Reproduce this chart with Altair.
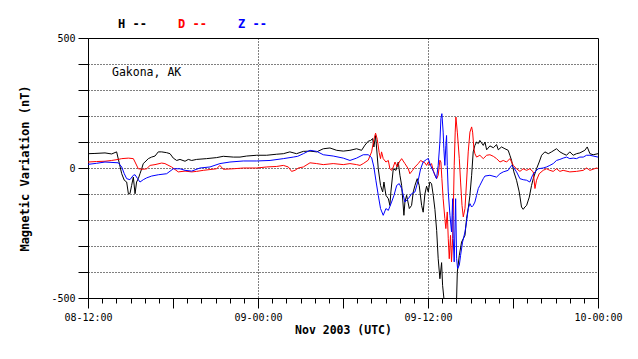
import altair as alt
import pandas as pd

# ---- data (hours since 2003-11-08 12:00 UTC, magnetic variation nT) ----
H_t = [0.0, 0.49, 1.20, 1.67, 2.02, 2.19, 2.38, 2.56, 2.73, 2.85, 2.96, 3.08, 3.20, 3.32, 3.43, 3.55, 3.67, 3.79, 3.90, 4.02,
       4.26, 4.49, 4.73, 4.96, 5.20, 5.55, 5.79, 6.02, 6.26, 6.49, 6.85, 7.08, 7.32, 7.67, 8.37, 9.08, 9.55, 10.26, 10.73, 11.20,
       11.91, 12.61, 13.32, 13.79, 14.25, 14.72, 15.20, 15.67, 16.14, 16.61, 17.08, 17.55, 18.02, 18.49, 18.96, 19.31, 19.55,
       19.78, 19.95, 20.09, 20.18, 20.30, 20.49, 20.65, 20.80, 20.89, 21.03, 21.20, 21.31, 21.38, 21.55, 21.74, 21.90, 22.02,
       22.14, 22.30, 22.37, 22.49, 22.68, 22.84, 22.96, 23.08, 23.24, 23.38, 23.55, 23.66, 23.78, 23.90, 24.02, 24.13, 24.25,
       24.37, 24.49, 24.61, 24.72, 24.84, 24.96, 25.03, 25.12, 25.25, 25.90, 26.02, 26.07, 26.21, 26.37, 26.49, 26.61, 26.72,
       26.84, 26.96, 27.08, 27.19, 27.31, 27.43, 27.55, 27.66, 27.90, 28.02, 28.14, 28.37, 28.61, 28.84, 28.96, 29.19, 29.43,
       29.66, 29.78, 29.90, 30.06, 30.25, 30.44, 30.60, 30.72, 30.84, 30.96, 31.15, 31.31, 31.43, 31.66, 31.85, 32.02, 32.25,
       32.49, 32.72, 33.07, 33.31, 33.54, 33.78, 34.01, 34.25, 34.48, 34.72, 35.07, 35.24, 35.43, 35.66, 36.0]
H_v = [55, 56, 58, 54, 62, 23, -22, -47, -54, -99, -99, -67, -35, -99, -54, -41, -22, -3, 17, 23,
       36, 42, 46, 62, 62, 59, 55, 38, 29, 33, 26, 33, 29, 33, 36, 40, 45, 42, 42, 46,
       49, 49, 53, 55, 62, 55, 64, 65, 62, 74, 77, 68, 65, 68, 74, 68, 88,
       103, 106, 113, 81, 125, -3, -67, -92, -54, -105, -118, -144, -92, -3, -9, 23, -28,
       -67, -182, -131, -105, -156, -144, -92, -67, -41, -67, -144, -170, -100, -70, -92, -54, -60,
       -105, -160, -240, -349, -426, -364, -451, -500, -560, -560, -500, -400, -336, -285, -272, -259, -195,
       -156, -105, -28, 62, 87, 100, 94, 106, 87, 100, 70, 85, 78, 90, 70, 81, 74,
       68, 49, 29, -15, -47, -92, -150, -159, -150, -144, -112, -67, -41, -3, 23, 49, 62,
       55, 62, 74, 62, 55, 49, 62, 49, 55, 58, 68, 81, 55, 51, 55]

D_t = [0.0, 0.6, 1.20, 1.67, 2.14, 2.38, 2.85, 3.20, 3.32, 3.55, 3.90, 4.14, 4.38, 4.73, 5.20, 5.43, 5.90, 6.37, 6.85, 7.32,
       7.67, 8.14, 8.61, 9.08, 9.31, 9.55, 10.26, 10.96, 11.91, 12.61, 13.32, 13.79, 14.14, 14.37, 14.61, 14.85, 15.20, 15.67,
       16.14, 16.61, 17.31, 18.02, 18.49, 18.96, 19.20, 19.43, 19.78, 20.02, 20.18, 20.30, 20.42, 20.55, 20.65, 20.72, 20.84,
       21.03, 21.20, 21.31, 21.43, 21.55, 21.67, 21.83, 21.97, 22.14, 22.37, 22.61, 22.72, 22.91, 23.08, 23.31, 23.48, 23.66,
       23.78, 23.90, 24.02, 24.14, 24.25, 24.37, 24.49, 24.61, 24.72, 24.84, 24.91, 24.98, 25.07, 25.19, 25.26, 25.36, 25.43,
       25.50, 25.59, 25.66, 25.74, 25.78, 25.85, 25.92, 25.97, 26.07, 26.21, 26.30, 26.40, 26.49, 26.61, 26.72, 26.84, 26.96,
       27.08, 27.15, 27.24, 27.31, 27.43, 27.66, 27.90, 28.14, 28.37, 28.61, 28.84, 29.08, 29.31, 29.55, 29.78, 30.02, 30.25,
       30.49, 30.72, 30.96, 31.19, 31.43, 31.55, 31.66, 31.85, 32.13, 32.37, 32.60, 32.84, 33.07, 33.31, 33.54, 34.01, 34.48,
       34.96, 35.19, 35.43, 35.90, 36.0]
D_v = [23, 25, 26, 29, 33, 36, 38, 36, 23, -3, -5, -3, 10, 13, 19, 17, 4, -15, -12, -15,
       -13, -9, -6, -3, 10, -5, -3, 0, 0, 4, 6, 10, 4, -13, -9, 0, 4, 20,
       17, 13, 17, 13, 17, 13, 10, 17, 30, 62, 110, 134, 110, 60, 36, 62, 36,
       23, 29, -3, -9, 4, 23, 4, 23, 36, 17, -3, -22, -9, 4, 17, 29, 23,
       20, 10, 23, 10, 17, -9, -28, -41, -28, 30, 23, -41, -118, -195, -233, -169, -272,
       -349, -259, -361, -272, -182, 10, 138, 196, 138, 36, -54, -144, -188, -156, -54, 62, 138,
       158, 138, 74, 55, 42, 49, 36, 49, 51, 45, 36, 23, 29, 23, 36, 10, -3,
       -13, -3, -9, -3, -15, -79, -47, -22, -9, -3, -9, -13, -3, -13, -9, -15, -13,
       -9, 0, -9, 0, -2]

Z_t = [0.0, 0.6, 1.20, 2.14, 2.38, 2.56, 2.73, 2.96, 3.20, 3.32, 3.50, 3.67, 3.90, 4.14, 4.49, 4.96, 5.55, 6.02, 6.49, 6.85,
       7.32, 7.90, 8.61, 9.31, 10.02, 10.96, 11.91, 12.85, 13.79, 14.49, 14.80, 15.20, 15.67, 16.14, 16.61, 17.31, 18.02, 18.49,
       18.96, 19.43, 19.78, 20.02, 20.18, 20.32, 20.49, 20.65, 20.84, 21.03, 21.20, 21.43, 21.60, 21.79, 21.97, 22.14, 22.37,
       22.61, 22.84, 23.08, 23.31, 23.48, 23.66, 23.90, 24.02, 24.18, 24.37, 24.60, 24.72, 24.84, 24.91, 24.98, 25.07, 25.12,
       25.19, 25.26, 25.31, 25.36, 25.43, 25.55, 25.66, 25.74, 25.78, 25.85, 25.95, 26.02, 26.09, 26.21, 26.30, 26.44, 26.61,
       26.72, 26.84, 26.96, 27.08, 27.19, 27.31, 27.43, 27.55, 27.66, 27.78, 27.90, 28.02, 28.37, 28.84, 29.08, 29.31, 29.66,
       29.90, 30.02, 30.25, 30.49, 30.72, 30.96, 31.19, 31.38, 31.55, 31.78, 32.13, 32.37, 32.60, 32.84, 33.07, 33.31, 33.54,
       33.78, 34.01, 34.25, 34.48, 34.72, 34.96, 35.19, 35.43, 35.66, 36.0]
Z_v = [14, 18, 23, 20, 4, -22, -41, -45, -28, -26, -41, -54, -45, -38, -31, -26, -22, -3, -3, -9,
       -12, 0, 4, 17, 23, 27, 27, 29, 36, 42, 45, 55, 68, 64, 51, 46, 38, 29,
       38, 51, 51, 40, 4, -47, -105, -156, -182, -156, -163, -131, -105, -67, -60, -79, -131,
       -118, -99, -92, -47, -3, 23, 33, 36, 10, -12, -41, 10, 100, 190, 209, 138, 74,
       10, 87, 125, 10, -92, -182, -246, -118, -272, -361, -118, -349, -387, -374, -336, -285, -246,
       -208, -156, -137, -150, -144, -131, -105, -79, -67, -54, -41, -31, -28, -35, -22, -15, -9,
       10, 4, -15, -41, -45, -47, -54, -28, -15, -3, 0, 4, 10, 17, 29, 33, 38,
       42, 36, 38, 36, 42, 42, 49, 49, 46, 42]

SERIES = ["H", "D", "Z"]
COLORS = ["#000000", "#ff0000", "#0000ff"]
TICK_HOURS = [0, 12, 24, 36]
TICK_LABELS = ["08-12:00", "09-00:00", "09-12:00", "10-00:00"]
STATION = "Gakona, AK"

MONO = "DejaVu Sans Mono"

frames = []
for name, t, v in zip(SERIES, [H_t, D_t, Z_t], [H_v, D_v, Z_v]):
    frames.append(pd.DataFrame({"t": t, "v": v, "s": name}))
df = pd.concat(frames, ignore_index=True)

label_expr = " : ".join(
    f"datum.value == {h} ? '{lab}'" for h, lab in zip(TICK_HOURS, TICK_LABELS)
) + " : ''"

x_enc = alt.X(
    "t:Q",
    scale=alt.Scale(domain=[0, 36], nice=False, zero=False),
    axis=alt.Axis(
        values=list(range(0, 37)),
        labelExpr=label_expr,
        tickSize={"condition": {"test": "datum.value % 6 == 0", "value": 10}, "value": 5},
        tickColor="black",
        domainColor="black",
        grid=True,
        gridColor="black",
        gridDash=[1, 2],
        gridOpacity={"condition": {"test": "datum.value == 12 || datum.value == 24", "value": 1}, "value": 0},
        labelFont=MONO,
        labelFontSize=10,
        labelColor="black",
        labelPadding=4,
        labelFlush=False,
        title="Nov 2003 (UTC)",
        titleFont=MONO,
        titleFontSize=11.5,
        titleFontWeight="bold",
        titleColor="black",
        titlePadding=2,
    ),
)
y_enc = alt.Y(
    "v:Q",
    scale=alt.Scale(domain=[-500, 500], nice=False, zero=False),
    axis=alt.Axis(
        values=list(range(-500, 501, 100)),
        labelExpr="datum.value % 500 == 0 ? '' + datum.value : ''",
        tickSize=10,
        tickColor="black",
        domainColor="black",
        grid=True,
        gridColor="black",
        gridDash=[1, 2],
        gridOpacity={"condition": {"test": "abs(datum.value) == 500", "value": 0}, "value": 1},
        labelFont=MONO,
        labelFontSize=10,
        labelColor="black",
        labelPadding=3,
        title="Magnetic Variation (nT)",
        titleFont=MONO,
        titleFontSize=12,
        titleFontWeight="bold",
        titleColor="black",
        titlePadding=19,
    ),
)

layers = []
for name, col in zip(SERIES, COLORS):
    layers.append(
        alt.Chart(df).transform_filter(alt.datum.s == name)
        .mark_line(color=col, strokeWidth=1, clip=True, interpolate="linear")
        .encode(x=x_enc, y=y_enc)
    )

station = alt.Chart(pd.DataFrame({"txt": [STATION]})).mark_text(
    align="left", baseline="alphabetic", font=MONO, fontSize=11.5, color="black"
).encode(x=alt.value(24), y=alt.value(38), text="txt:N")
layers.append(station)

for i, (name, col) in enumerate(zip(SERIES, COLORS)):
    layers.append(
        alt.Chart(pd.DataFrame({"txt": [f"{name} --"]})).mark_text(
            align="left", baseline="alphabetic", font=MONO, fontSize=12, fontWeight="bold", color=col
        ).encode(x=alt.value(30 + 60 * i), y=alt.value(-10), text="txt:N")
    )

chart = alt.layer(*layers).properties(
    width=510, height=260,
    autosize=alt.AutoSizeParams(type="none"),
    padding={"left": 80, "top": 30, "right": 32, "bottom": 53},
    background="white",
).configure_view(stroke="black", strokeWidth=1)

chart.save("out.html", embed_options={"renderer": "svg", "actions": False})
